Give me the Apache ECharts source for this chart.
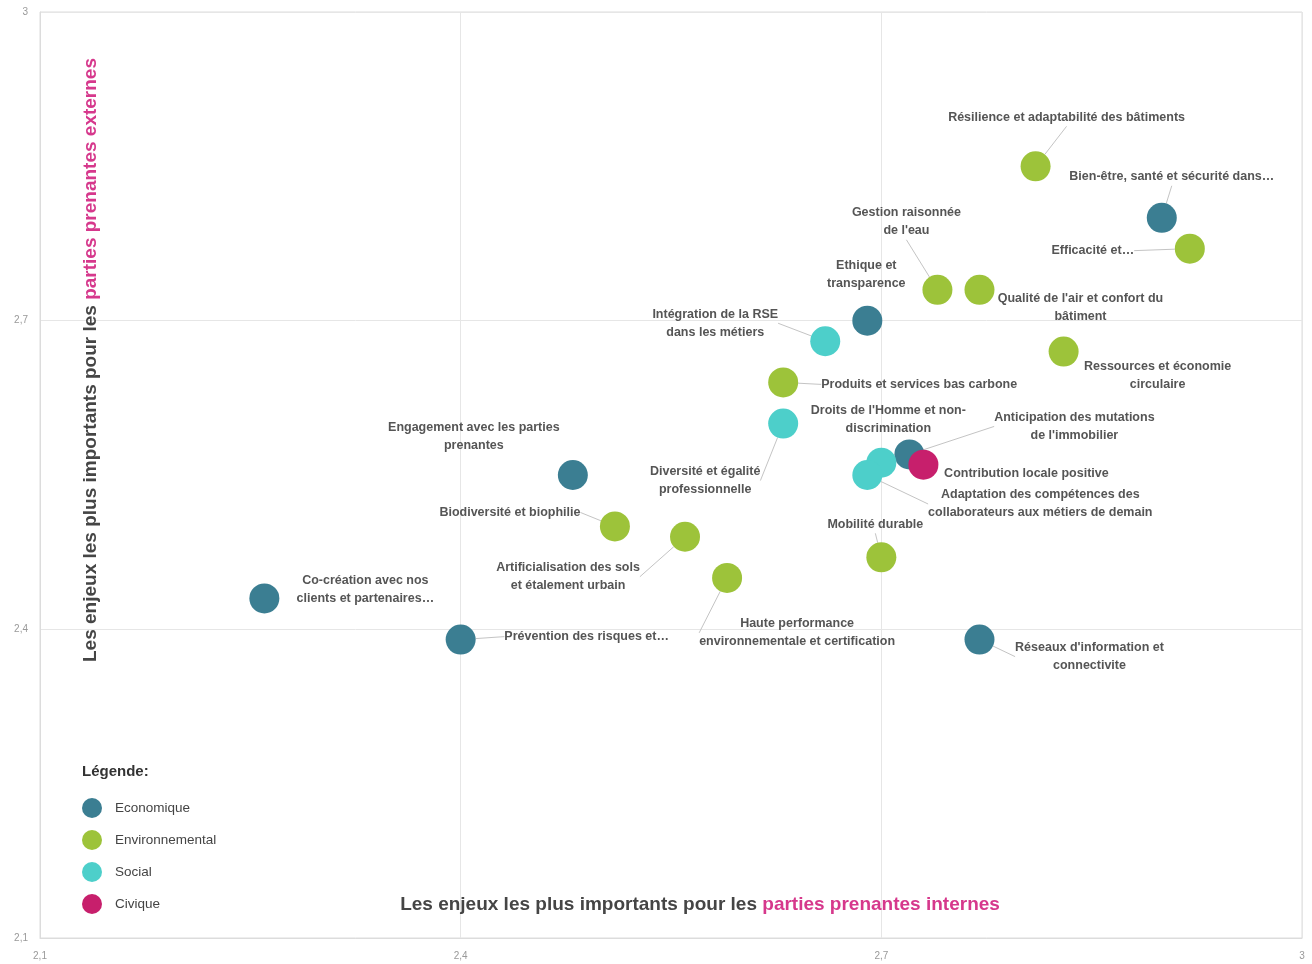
<!DOCTYPE html>
<html><head><meta charset="utf-8">
<script src="https://cdn.jsdelivr.net/npm/echarts@6/dist/echarts.min.js"></script>
<style>html,body{margin:0;padding:0;background:#fff}#c{width:1312px;height:964px}</style>
</head><body><div id="c"></div>
<script>
// ---- DATA ----
const categories = ['Economique', 'Environnemental', 'Social', 'Civique'];
const issueNames = [
  'Résilience et adaptabilité des bâtiments',
  'Bien-être, santé et sécurité dans…',
  'Efficacité et…',
  'Gestion raisonnée\nde l\'eau',
  'Qualité de l\'air et confort du\nbâtiment',
  'Ethique et\ntransparence',
  'Intégration de la RSE\ndans les métiers',
  'Ressources et économie\ncirculaire',
  'Produits et services bas carbone',
  'Diversité et égalité\nprofessionnelle',
  'Droits de l\'Homme et non-\ndiscrimination',
  'Anticipation des mutations\nde l\'immobilier',
  'Contribution locale positive',
  'Adaptation des compétences des\ncollaborateurs aux métiers de demain',
  'Engagement avec les parties\nprenantes',
  'Biodiversité et biophilie',
  'Artificialisation des sols\net étalement urbain',
  'Mobilité durable',
  'Haute performance\nenvironnementale et certification',
  'Co-création avec nos\nclients et partenaires…',
  'Prévention des risques et…',
  'Réseaux d\'information et\nconnectivite'
];
const internalScores = [2.81, 2.90, 2.92, 2.74, 2.77, 2.69, 2.66, 2.83, 2.63, 2.63, 2.70, 2.72, 2.73, 2.69, 2.48, 2.51, 2.56, 2.70, 2.59, 2.26, 2.40, 2.77];
const externalScores = [2.85, 2.80, 2.77, 2.73, 2.73, 2.70, 2.68, 2.67, 2.64, 2.60, 2.562, 2.57, 2.56, 2.55, 2.55, 2.50, 2.49, 2.47, 2.45, 2.43, 2.39, 2.39];
const issueCategory = [1, 0, 1, 1, 1, 0, 2, 1, 1, 2, 2, 0, 3, 2, 0, 1, 1, 1, 1, 0, 0, 0];
const tickValues = [2.1, 2.4, 2.7, 3];

// ---- LAYOUT / STYLE (not data) ----
const labelOffsets = [
  [31, -49], [10, -41], [-97, 2], [-31, -68], [101, 18], [-1, -46], [-110, -18], [94, 24],
  [136, 2], [-78, 57], [7, -43], [165, -28], [103, 9], [173, 29], [-99, -38], [-105, -14],
  [-117, 40], [-6, -33], [70, 55], [101, -9], [126, -3], [110, 17]
];
const withLeader = [1, 1, 1, 1, 0, 0, 1, 0, 1, 1, 0, 1, 0, 1, 0, 1, 1, 1, 1, 0, 1, 1];
const colors = ['#3b7e92', '#9dc33a', '#4dcfca', '#c71f6c'];
const FONT = 'Liberation Sans, Arial, sans-serif';

const fmt = v => String(+(+v).toFixed(2)).replace('.', ',');

const series = categories.map((cat, c) => {
  const idx = [];
  issueNames.forEach((n, i) => { if (issueCategory[i] === c) idx.push(i); });
  return {
    name: cat,
    type: 'scatter',
    symbol: 'circle',
    symbolSize: 30,
    itemStyle: { color: colors[c], opacity: 1 },
    emphasis: { disabled: true },
    label: {
      show: true,
      position: 'inside',
      formatter: '{b}',
      color: '#555',
      fontSize: 12.5,
      fontWeight: 'bold',
      fontFamily: FONT,
      lineHeight: 18,
      align: 'center',
      textBorderWidth: 0
    },
    labelLine: { show: true, lineStyle: { color: '#c4c4c4', width: 1 } },
    labelLayout: function (p) {
      const g = idx[p.dataIndex];
      return { dx: labelOffsets[g][0], dy: labelOffsets[g][1] };
    },
    data: idx.map(i => ({
      name: issueNames[i],
      value: [internalScores[i], externalScores[i]],
      labelLine: { show: !!withLeader[i] }
    }))
  };
});

const chart = echarts.init(document.getElementById('c'), null, { renderer: 'canvas' });
const richTitle = {
  a: { fontSize: 19, fontWeight: 'bold', color: '#454545', fontFamily: FONT },
  b: { fontSize: 19, fontWeight: 'bold', color: '#d6388c', fontFamily: FONT }
};
chart.setOption({
  animation: false,
  backgroundColor: '#fff',
  color: colors,
  title: {
    text: 'Légende:',
    left: 82, top: 764, padding: 0,
    textStyle: { fontSize: 15, fontWeight: 'bold', color: '#333', fontFamily: FONT }
  },
  legend: {
    data: categories,
    orient: 'vertical',
    left: 82, top: 798, padding: 0,
    itemWidth: 20, itemHeight: 20, itemGap: 12,
    icon: 'circle',
    selectedMode: false,
    textStyle: { fontSize: 13.5, color: '#444', padding: [0, 0, 0, 8], fontFamily: FONT }
  },
  grid: { left: 40, right: 10, top: 12, bottom: 26, show: true, borderColor: '#dcdcdc', borderWidth: 1 },
  xAxis: {
    type: 'value', min: tickValues[0], max: tickValues[tickValues.length - 1], interval: 0.3,
    axisLine: { show: true, lineStyle: { color: '#dcdcdc' } },
    axisTick: { show: false },
    splitLine: { show: true, lineStyle: { color: '#e6e6e6' } },
    axisLabel: { color: '#999', fontSize: 10, margin: 13, formatter: fmt },
    name: '{a|Les enjeux les plus importants pour les }{b|parties prenantes internes}',
    nameLocation: 'middle',
    nameGap: -43,
    nameTextStyle: { rich: richTitle, padding: [0, 0, 0, 58] }
  },
  yAxis: {
    type: 'value', min: tickValues[0], max: tickValues[tickValues.length - 1], interval: 0.3,
    axisLine: { show: true, lineStyle: { color: '#dcdcdc' } },
    axisTick: { show: false },
    splitLine: { show: true, lineStyle: { color: '#e6e6e6' } },
    axisLabel: { color: '#999', fontSize: 10, margin: 12, formatter: fmt },
    name: '{a|Les enjeux les plus importants pour les }{b|parties prenantes externes}',
    nameLocation: 'middle',
    nameRotate: 90,
    nameGap: -60,
    nameTextStyle: { rich: richTitle, padding: [0, 0, 0, 230] }
  },
  series: series
});
</script>
</body></html>
